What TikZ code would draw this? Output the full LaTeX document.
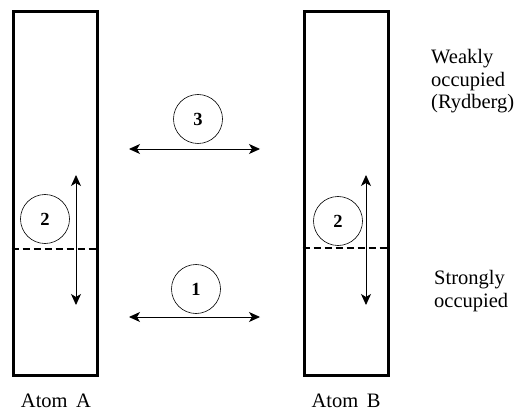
\documentclass[tikz,border=0pt]{standalone}
\usepackage{fontspec}
\setmainfont{Liberation Serif}
\newfontfamily\timesfont{Liberation Serif}
\usetikzlibrary{arrows,arrows.meta}
\tikzstyle{arrow} = [{Stealth[length=11pt,width=10pt,inset=3pt]}-{Stealth[length=11pt,width=10pt,inset=3pt]},line width=0.9pt]
\tikzstyle{atom} = [draw,line width=3pt,minimum width=84pt,minimum height=363pt,inner sep=0pt]
\tikzstyle{num} = [draw,circle,line width=0.6pt,minimum size=49pt,inner sep=0pt,font=\timesfont\fontsize{18.5}{20}\selectfont\bfseries]
\tikzstyle{lbl} = [align=left,inner sep=0pt,font=\timesfont\fontsize{20.5}{22.5}\selectfont]
\tikzstyle{level} = [dash pattern=on 7pt off 4pt,line width=1.4pt]

\begin{document}
\begin{tikzpicture}[x=1pt,y=-1pt]
\useasboundingbox (0,0) rectangle (518,411);

% Nodes
\node (atomA) [atom] at (55,193.5) {};
\node (atomB) [atom] at (346,193.5) {};
\node (numA) [num] at (45,219) {2};
\node (numB) [num] at (338,221) {2};
\node (num3) [num] at (198,119) {3};
\node (num1) [num] at (196,289) {1};
\node (weak) [lbl,anchor=base west] at (431,109) {Weakly\\occupied\\(Rydberg)};
\node (strong) [lbl,anchor=base west] at (434,307) {Strongly\\occupied};
\node (nameA) [lbl,anchor=base] at (56,407) {Atom\,~A};
\node (nameB) [lbl,anchor=base] at (346,407) {Atom\,~B};

% Levels and arrows
\draw [level] (atomA.west |- 0,249) -- (atomA.east |- 0,249);
\draw [level] (atomB.west |- 0,248) -- (atomB.east |- 0,248);
\coordinate (a3l) at (129,149);
\coordinate (a3r) at (260,149);
\coordinate (a1l) at (129,317);
\coordinate (a1r) at (260,317);
\coordinate (vAt) at (76,175);
\coordinate (vAb) at (76,305);
\coordinate (vBt) at (366,175);
\coordinate (vBb) at (366,305);
\draw [arrow] (a3l) -- (a3r);
\draw [arrow] (a1l) -- (a1r);
\draw [arrow] (vAt) -- (vAb);
\draw [arrow] (vBt) -- (vBb);

\end{tikzpicture}
\end{document}
